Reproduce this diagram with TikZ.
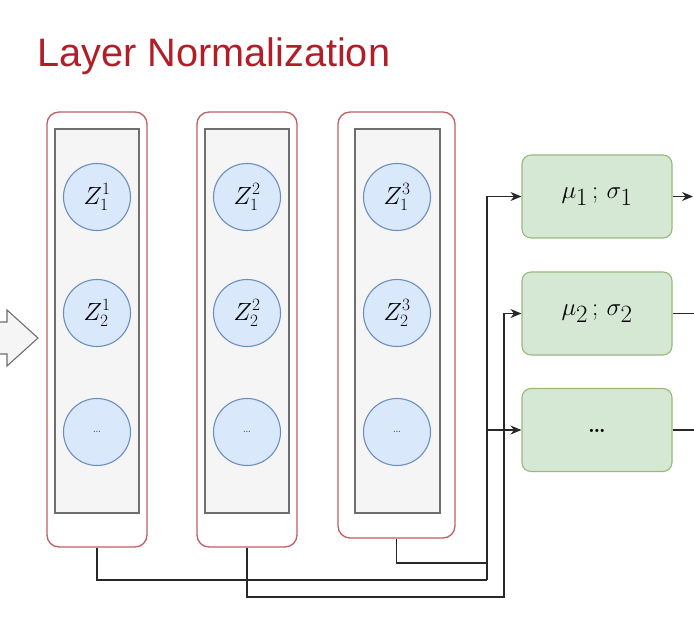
\documentclass[tikz,border=0pt]{standalone}
\usepackage{fontspec}
\usepackage{tikz}
\usetikzlibrary{arrows.meta}
\newfontfamily\titlefont{Liberation Sans}
\definecolor{titlered}{RGB}{178,30,40}
\definecolor{colred}{RGB}{192,95,100}
\definecolor{boxgray}{RGB}{245,245,245}
\definecolor{boxline}{RGB}{110,110,110}
\definecolor{zblue}{RGB}{218,232,252}
\definecolor{zline}{RGB}{108,142,191}
\definecolor{mgreen}{RGB}{213,232,212}
\definecolor{mline}{RGB}{150,185,125}
\definecolor{wire}{RGB}{40,40,40}

\begin{document}
\begin{tikzpicture}[x=1pt,y=-1pt,
    colbox/.style={draw=colred,line width=1.3pt,fill=white,rounded corners=12pt,minimum width=100pt,minimum height=435pt},
    inbox/.style={draw=boxline,line width=1.1pt,fill=boxgray,minimum width=84pt,minimum height=384pt},
    zcircle/.style={draw=zline,line width=1.1pt,fill=zblue,circle,minimum size=67pt,inner sep=0pt,font=\fontsize{23}{25}\selectfont},
    zdots/.style={zcircle,font=\fontsize{15}{17}\selectfont,text=black!70},
    statbox/.style={draw=mline,line width=1.1pt,fill=mgreen,rounded corners=9pt,minimum width=150pt,minimum height=83pt,font=\fontsize{28}{30}\selectfont},
    wireline/.style={draw=wire,line width=1.3pt},
    wirearrow/.style={wireline,-{Stealth[length=11pt,width=9pt]}}]
    \useasboundingbox (0,0) rectangle (694,628);
        % title
        \node[anchor=base west,inner sep=0pt,text=titlered,font=\titlefont\fontsize{39.7}{44}\selectfont] (title) at (37,67) {Layer Normalization};
        % input arrow
        \draw[draw=boxline,fill=boxgray,line width=1.1pt] (-2,322) -- (7,322) -- (7,310) -- (38,338) -- (7,366) -- (7,354) -- (-2,354) -- cycle;
        % columns
        \coordinate (c1) at (97,329.5);
        \coordinate (c2) at (247,329.5);
        \coordinate (c3) at (396.5,325);
        \node[colbox] (o1) at (c1){};
        \node[colbox] (o2) at (c2){};
        \node[colbox,minimum width=117pt,minimum height=426pt] (o3) at (c3){};
        \node[inbox] (b1) at (97,321){};
        \node[inbox] (b2) at (247,321){};
        \node[inbox,minimum width=85pt] (b3) at (397.5,321){};
        \node[zcircle] (z11) at (97,197){$Z^{1}_{1}$};
        \node[zcircle] (z12) at (97,313){$Z^{1}_{2}$};
        \node[zdots] (z13) at (97,432){\ldots};
        \node[zcircle] (z21) at (247,197){$Z^{2}_{1}$};
        \node[zcircle] (z22) at (247,313){$Z^{2}_{2}$};
        \node[zdots] (z23) at (247,432){\ldots};
        \node[zcircle] (z31) at (397,197){$Z^{3}_{1}$};
        \node[zcircle] (z32) at (397,313){$Z^{3}_{2}$};
        \node[zdots] (z33) at (397,432){\ldots};
        % mean and variance
        \node[statbox] (g1) at (597,196.5){$\mu_{\textstyle 1}\,;\,\sigma_{\textstyle 1}$};
        \node[statbox] (g2) at (597,313.5){$\mu_{\textstyle 2}\,;\,\sigma_{\textstyle 2}$};
        \node[statbox,font=\fontsize{22}{24}\selectfont\bfseries] (g3) at (597,430){\raisebox{-6pt}{\ldots}};
        % wires
        \coordinate (bus1) at (487,580);
        \coordinate (bus2) at (504,597);
        \coordinate (bus3) at (487,563);
        \coordinate (out1) at (693,196.5);
        \coordinate (out2) at (694,313.5);
        \coordinate (out3) at (694,430);
        \draw[wireline] (o1.south) |- (bus1);
        \draw[wireline] (o3.south) |- (bus3);
        \draw[wirearrow] (bus1) |- (g1.west);
        \draw[wirearrow] (bus1) |- (g3.west);
        \draw[wirearrow] (o2.south) |- (bus2) |- (g2.west);
        \draw[wirearrow] (g1.east) -- (out1);
        \draw[wireline] (g2.east) -- (out2);
        \draw[wireline] (g3.east) -- (out3);
\end{tikzpicture}
\end{document}
